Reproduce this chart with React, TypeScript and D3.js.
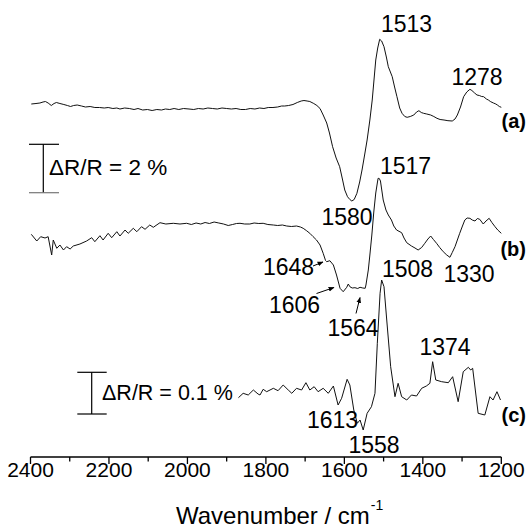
import React from 'react';
import * as d3 from 'd3';

const W = 528;
const H = 528;

// axis
const xDomain = [2400, 1200];
const majorTicks = [2400, 2200, 2000, 1800, 1600, 1400, 1200];
const minorTicks = [2300, 2100, 1900, 1700, 1500, 1300];

// spectrum (a) – wavenumber / signal (a.u., offset)
const aWn = [2398, 2386, 2376, 2368, 2362, 2355, 2347, 2340, 2334, 2325, 2315, 2306, 2298, 2290, 2281, 2270, 2260, 2248, 2236, 2224, 2212, 2202, 2190, 2180, 2172, 2160, 2148, 2136, 2126, 2114, 2102, 2090, 2078, 2066, 2056, 2045, 2034, 2022, 2010, 1996, 1984, 1972, 1960, 1948, 1936, 1924, 1912, 1900, 1888, 1876, 1864, 1852, 1840, 1828, 1816, 1805, 1794, 1782, 1770, 1760, 1752, 1742, 1731, 1720, 1710, 1703, 1695, 1688, 1678, 1670, 1662, 1654, 1645, 1638, 1630, 1621, 1612, 1605, 1599, 1592, 1586, 1581, 1575, 1568, 1561, 1555, 1548, 1542, 1535, 1529, 1520, 1515, 1510, 1505, 1499, 1493, 1488, 1478, 1472, 1466, 1459, 1453, 1446, 1440, 1432, 1423, 1416, 1410, 1404, 1398, 1390, 1380, 1372, 1364, 1356, 1346, 1336, 1325, 1318, 1312, 1304, 1296, 1288, 1280, 1275, 1268, 1262, 1256, 1250, 1245, 1238, 1233, 1227, 1220, 1214, 1210, 1205, 1200];
const aVal = [356, 356.5, 357, 358, 358.5, 357, 354.5, 356.5, 357.5, 356.5, 355.5, 354.5, 353.5, 354.5, 355, 354, 353, 353.5, 352.5, 352.5, 352, 352.5, 351.5, 352, 351, 352, 351.5, 350.5, 351.5, 350, 350.5, 349.5, 350.5, 350, 351, 350.5, 351.5, 350.5, 351.5, 351, 350.5, 351.5, 351, 352, 351.5, 351, 352, 351.5, 351, 351.5, 350.5, 350.5, 351.5, 351, 352, 351.5, 352.5, 352.5, 353, 354, 354, 354.5, 355.5, 357.5, 359, 359.5, 359, 358.5, 356.5, 354.5, 351.5, 345, 337, 327, 313.3, 302, 293.3, 281, 270, 263.3, 260.5, 259, 260.5, 266.7, 278, 290, 306, 320, 340, 360, 400, 412, 420.7, 419, 413.3, 403, 393.3, 383.3, 373, 363.3, 352, 346.7, 343.5, 342.7, 343.5, 345, 348, 349.3, 347.5, 346.7, 346, 345, 343.5, 341.7, 340.5, 340, 339.3, 339, 341, 345, 353, 363.3, 368, 370.7, 369.5, 367, 365, 364.5, 363.5, 363.3, 361, 360, 358.3, 357, 356, 355, 353.5, 352.7];

// spectrum (b)
const bWn = [2398, 2384, 2374, 2363, 2355, 2346, 2342, 2333, 2325, 2316, 2308, 2299, 2291, 2274, 2257, 2244, 2236, 2223, 2215, 2202, 2193, 2180, 2172, 2159, 2151, 2138, 2129, 2117, 2108, 2096, 2087, 2070, 2055, 2036, 2019, 2002, 1990, 1978, 1966, 1955, 1944, 1932, 1920, 1908, 1896, 1885, 1875, 1866, 1854, 1841, 1830, 1818, 1807, 1795, 1781, 1770, 1758, 1747, 1735, 1722, 1712, 1705, 1697, 1688, 1680, 1671, 1662, 1654, 1648, 1645, 1637, 1628, 1620, 1611, 1603, 1594, 1590, 1586, 1580, 1573, 1566, 1560, 1553, 1547, 1545, 1539, 1535, 1530, 1525, 1520, 1516, 1514, 1511, 1508, 1501, 1494, 1488, 1480, 1474, 1467, 1454, 1448, 1441, 1429, 1420, 1412, 1403, 1395, 1387, 1380, 1373, 1365, 1357, 1348, 1339, 1331, 1325, 1318, 1312, 1306, 1299, 1293, 1287, 1280, 1274, 1267, 1261, 1255, 1246, 1239, 1231, 1224, 1216, 1209, 1200];
const bVal = [225.7, 219, 223.3, 222, 223.3, 205, 220, 211.7, 215, 210, 213.3, 211, 214, 216, 219, 222.3, 218.3, 224.3, 220, 226.7, 222.3, 228.3, 224, 230, 226.7, 231.7, 228.3, 233.3, 230.7, 235, 232.7, 237.3, 236, 236.7, 236, 236.7, 235.5, 237, 236, 237.5, 236.5, 238, 237, 236, 234.5, 235.5, 236.5, 236.7, 236, 236, 237, 236.5, 236.7, 235.5, 235, 234.5, 235, 234, 233.5, 234, 233, 231.7, 229.5, 226.7, 223.5, 220, 215, 206.7, 199.5, 198.3, 199.3, 195, 185, 171.7, 168.3, 172.7, 176, 173.3, 172, 172.3, 171.5, 172.7, 172, 171.7, 175, 190, 205, 225, 248, 267, 277, 281.7, 281.5, 279, 260, 250, 245, 240, 234, 230, 227.3, 222, 217.3, 214, 212, 210, 212.5, 216.7, 221, 224, 220.5, 216.7, 212.5, 208.3, 205, 202.7, 207.5, 213.3, 220, 226.7, 234, 240, 242, 241.7, 240, 239, 241.5, 240.7, 236, 239, 241.7, 237.5, 233.3, 230, 226.7];

// spectrum (c)
const cWn = [1870, 1858, 1845, 1832, 1820, 1815, 1807, 1798, 1781, 1769, 1756, 1743, 1734, 1722, 1709, 1698, 1688, 1677, 1667, 1654, 1641, 1628, 1616, 1607, 1593, 1586, 1576, 1567, 1560, 1552, 1542, 1531, 1522, 1516, 1509, 1505, 1499, 1492, 1482, 1471, 1463, 1454, 1441, 1429, 1416, 1403, 1391, 1382, 1375, 1367, 1352, 1335, 1324, 1310, 1297, 1284, 1278, 1273, 1259, 1242, 1229, 1221, 1211, 1202];
const cVal = [62.3, 66.7, 65, 70, 66, 65, 70.7, 68.3, 71.7, 69.3, 75, 70, 66.7, 71.7, 70, 77.3, 70, 73.3, 68.3, 71.7, 66.7, 74, 55, 61.7, 80.7, 75, 50, 36.7, 40, 30, 46.7, 53.3, 66.7, 116.7, 166.7, 180, 173.3, 140, 93.3, 63.3, 76.7, 63.3, 60, 65, 64, 71.7, 74, 76.7, 98.3, 80, 78.3, 77.3, 83.3, 58.3, 88.3, 92.7, 90, 91.7, 46.7, 45, 63.3, 60, 68.3, 60];

// peak labels
const peakLabels = ['1513', '1278', '1580', '1517', '1648', '1606', '1564', '1508', '1330', '1613', '1558', '1374'];
const peakLabelPos = [
  [406.5, 32], [477, 85], [347, 225], [405.5, 174], [288.5, 275], [294.5, 313],
  [353, 336], [407.5, 277], [469, 282], [332.5, 428], [374, 453], [445, 355],
];
const seriesLabels = ['(a)', '(b)', '(c)'];
const seriesLabelPos = [[526, 128], [526, 256], [526, 422]];

const arrows = [
  [313, 266, 323, 262],
  [316.5, 293.5, 334, 287.5],
  [356, 313.5, 360, 297.5],
];

export default function App() {
  const x = d3.scaleLinear().domain(xDomain).range([30.5, 501.3]);
  const y = d3.scaleLinear().domain([0, 460]).range([460, 0]);

  const mk = (wn: number[], v: number[]) =>
    d3
      .line<number>()
      .x((d) => x(d))
      .y((_, i) => y(v[i]))(wn) as string;

  const axisY = 457;
  const font = "'Liberation Sans', Arial, sans-serif";

  return (
    <svg
      width={W}
      height={H}
      style={{ position: 'absolute', left: 0, top: 0, background: '#fff' }}
      fontFamily={font}
    >
      <rect width={W} height={H} fill="#fff" />
      <defs>
        <marker id="ah" viewBox="0 0 10 10" refX="9" refY="5" markerWidth="6" markerHeight="6" orient="auto">
          <path d="M0,1 L10,5 L0,9 Z" fill="#000" />
        </marker>
      </defs>

      {/* spectra */}
      <path d={mk(aWn, aVal)} fill="none" stroke="#111" strokeWidth={1} strokeLinejoin="round" />
      <path d={mk(bWn, bVal)} fill="none" stroke="#111" strokeWidth={1} strokeLinejoin="round" />
      <path d={mk(cWn, cVal)} fill="none" stroke="#111" strokeWidth={1} strokeLinejoin="round" />

      {/* axis */}
      <line x1={x(2400)} x2={x(1200)} y1={axisY} y2={axisY} stroke="#000" strokeWidth={1.3} />
      {majorTicks.map((t) => (
        <g key={'M' + t}>
          <line x1={x(t)} x2={x(t)} y1={axisY} y2={axisY + 7} stroke="#000" strokeWidth={1.3} />
          <text x={x(t)} y={477} textAnchor="middle" fontSize={21} fill="#000">
            {t}
          </text>
        </g>
      ))}
      {minorTicks.map((t) => (
        <line key={'m' + t} x1={x(t)} x2={x(t)} y1={axisY} y2={axisY + 4.5} stroke="#000" strokeWidth={1.3} />
      ))}
      <text x={176} y={524} fontSize={24} fill="#000">
        Wavenumber / cm
        <tspan fontSize={14} dx={1} dy={-14}>-1</tspan>
      </text>

      {/* scale bars */}
      <g stroke="#000" strokeWidth={1.2}>
        <line x1={43.3} x2={43.3} y1={144.3} y2={192.7} />
        <line x1={29} x2={59} y1={144.3} y2={144.3} />
        <line x1={29} x2={59} y1={192.7} y2={192.7} stroke="#777" />
        <line x1={91.7} x2={91.7} y1={372.3} y2={414} />
        <line x1={77.3} x2={106.7} y1={372.3} y2={372.3} />
        <line x1={77.3} x2={106.7} y1={414} y2={414} />
      </g>
      <text x={49} y={175} fontSize={22.5} fill="#000">ΔR/R = 2 %</text>
      <text x={102} y={400} fontSize={21.5} fill="#000">ΔR/R = 0.1 %</text>

      {/* labels */}
      {peakLabels.map((l, i) => (
        <text key={l} x={peakLabelPos[i][0]} y={peakLabelPos[i][1]} textAnchor="middle" fontSize={23} fill="#000">
          {l}
        </text>
      ))}
      {seriesLabels.map((l, i) => (
        <text key={l} x={seriesLabelPos[i][0]} y={seriesLabelPos[i][1]} textAnchor="end" fontSize={20} fontWeight="bold" fill="#000">
          {l}
        </text>
      ))}
      {arrows.map((a, i) => (
        <line key={i} x1={a[0]} y1={a[1]} x2={a[2]} y2={a[3]} stroke="#000" strokeWidth={1} markerEnd="url(#ah)" />
      ))}
    </svg>
  );
}
